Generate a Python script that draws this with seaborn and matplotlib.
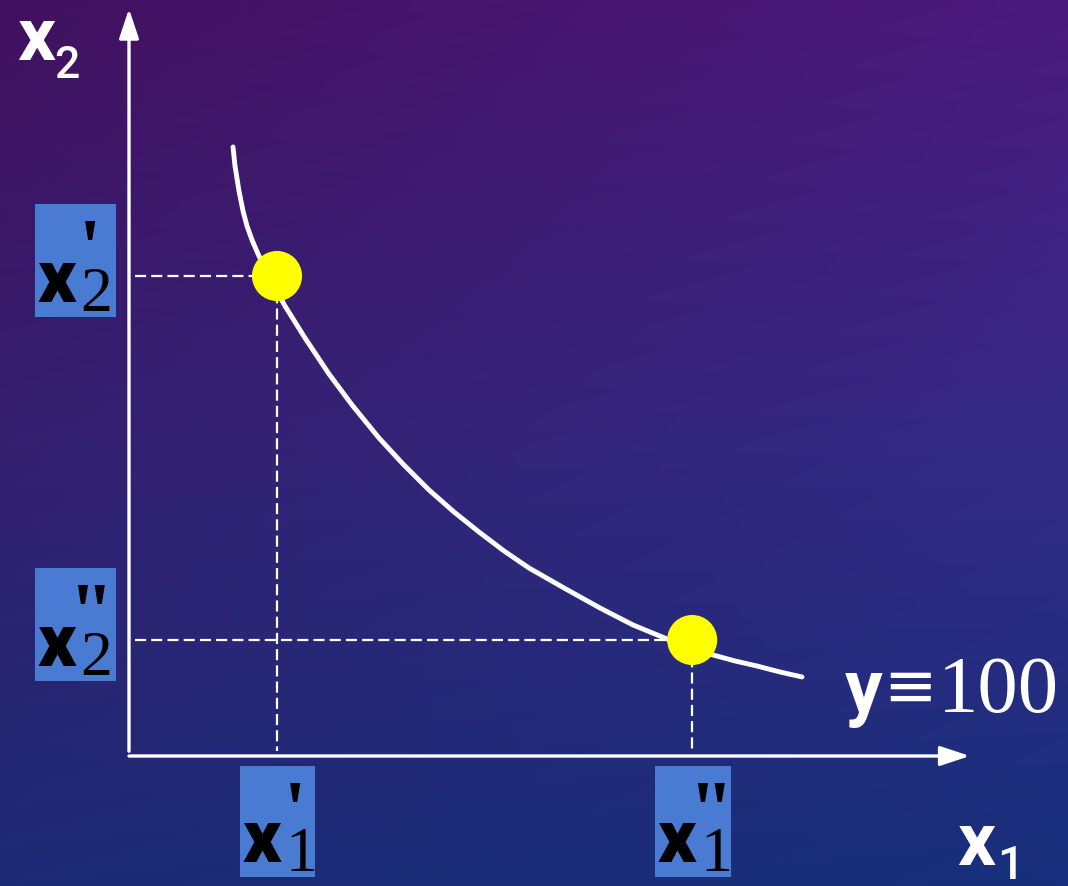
import numpy as np
import seaborn as sns
import matplotlib.pyplot as plt
from matplotlib.colors import to_rgb
from matplotlib.patches import Rectangle

sns.set_theme(style="white")

# Isoquant y = 100: input combinations (x1, x2)
curve_x1 = [1.300, 1.325, 1.375, 1.425, 1.475, 1.538, 1.613, 1.763, 1.950,
            2.200, 2.500, 2.788, 3.125, 3.425, 3.750, 4.063, 4.375, 4.688,
            5.000, 5.438, 5.888, 6.300, 6.725, 7.013, 7.300, 7.575, 7.850,
            8.138, 8.413]
curve_x2 = [7.613, 7.375, 7.063, 6.813, 6.625, 6.450, 6.275, 5.963, 5.625,
            5.225, 4.775, 4.388, 3.975, 3.650, 3.325, 3.050, 2.800, 2.563,
            2.350, 2.100, 1.850, 1.638, 1.463, 1.363, 1.263, 1.188, 1.125,
            1.050, 0.988]

# Two highlighted combinations on the isoquant
point_x1 = [1.85, 7.04]
point_x2 = [6.00, 1.45]
point_marks = ["'", '"']          # prime / double prime
x1_index = ["1", "1"]
x2_index = ["2", "2"]
output_level = "100"

BOX = "#4a7bd3"
SANS_BOLD = dict(family=["Roboto", "DejaVu Sans"], fontweight="bold")
SERIF = dict(family=["Liberation Serif", "DejaVu Serif"])

fig = plt.figure(figsize=(10.68, 8.87), dpi=100)
ax = fig.add_axes([0, 0, 1, 1])
xlim = (-1.6125, 11.7375)
ylim = (-1.625, 9.4625)
ax.set_xlim(*xlim)
ax.set_ylim(*ylim)
ax.axis("off")


# Night-sky gradient background: violet at the top, deep blue at the bottom
def mix(c1, c2, t):
    a, b = np.array(to_rgb(c1)), np.array(to_rgb(c2))
    return a[None, None, :] * (1 - t[..., None]) + b[None, None, :] * t[..., None]


H, W = 300, 300
ty = np.linspace(0, 1, H)[:, None] * np.ones((1, W))
tx = np.ones((H, 1)) * np.linspace(0, 1, W)[None, :]
top = mix("#42105f", "#4b1b7e", tx)
mid = mix("#33206f", "#342a86", tx)
bot = mix("#1d2a75", "#17307c", tx)
upper = ty < 0.5
img = np.where(upper[..., None],
               top * (1 - 2 * ty[..., None]) + mid * (2 * ty[..., None]),
               mid * (2 - 2 * ty[..., None]) + bot * (2 * ty[..., None] - 1))
ax.imshow(img, extent=(xlim[0], xlim[1], ylim[0], ylim[1]), origin="upper",
          aspect="auto", interpolation="bilinear", zorder=0)

# Axes with arrow heads
arrow = dict(arrowstyle="-|>,head_length=0.9,head_width=0.3", color="white",
             lw=2.4, shrinkA=0, shrinkB=0, mutation_scale=20)
ax.annotate("", xy=(10.51, 0.0), xytext=(0.0, 0.0), arrowprops=arrow, zorder=3)
ax.annotate("", xy=(0.0, 9.34), xytext=(0.0, 0.06), arrowprops=arrow, zorder=3)

# Dashed guides from each point to the axes
for px, py in zip(point_x1, point_x2):
    ax.plot([0.075, px], [py, py], color="white", lw=1.6,
            linestyle=(0, (5, 2.3)), zorder=2)
    ax.plot([px, px], [py, 0.06], color="white", lw=1.6,
            linestyle=(0, (5, 2.3)), zorder=2)

# Isoquant curve
sns.lineplot(x=curve_x1, y=curve_x2, sort=False, estimator=None, color="white",
             lw=3.5, ax=ax, zorder=4, solid_capstyle="round",
             solid_joinstyle="round")

# Points on the isoquant
sns.scatterplot(x=point_x1, y=point_x2, s=1300, color="#ffff00",
                edgecolor="none", ax=ax, zorder=5, legend=False)


def boxed_label(left, bottom, width, height, index, mark):
    ax.add_patch(Rectangle((left, bottom), width, height, facecolor=BOX,
                           edgecolor="none", zorder=3))
    ax.text(left + 0.03, bottom + 0.2, "x", color="black", fontsize=54,
            ha="left", va="baseline", zorder=6,
            family=["Roboto", "DejaVu Sans"], fontweight=900)
    ax.text(left + 0.56, bottom + 0.09, index, color="black", fontsize=46,
            ha="left", va="baseline", zorder=6, **SERIF)
    ax.text(left + 0.69, bottom + height - 0.16, mark, color="black",
            fontsize=58, ha="center", va="top", zorder=6,
            fontweight="bold", **SERIF)


# Labels on the x2 axis
for py, idx, mk in zip(point_x2, x2_index, point_marks):
    boxed_label(-1.175, py - 0.51, 1.0125, 1.4125, idx, mk)

# Labels on the x1 axis
for px, idx, mk in zip(point_x1, x1_index, point_marks):
    boxed_label(px - 0.46, -1.5125, 0.94, 1.3875, idx, mk)

# Axis names
ax.text(-1.4, 8.71, "x", color="white", fontsize=54, ha="left", va="baseline",
        zorder=6, **SANS_BOLD)
ax.text(-0.93, 8.49, "2", color="white", fontsize=32, ha="left", va="baseline",
        zorder=6, family=["Roboto", "DejaVu Sans"], fontweight="medium")
ax.text(10.35, -1.35, "x", color="white", fontsize=54, ha="left", va="baseline",
        zorder=6, **SANS_BOLD)
ax.text(10.85, -1.52, "1", color="white", fontsize=34, ha="left", va="baseline",
        zorder=6, family=["Roboto", "DejaVu Sans"], fontweight="medium")

# Output level of the isoquant
ax.text(8.95, 0.5625, "y", color="white", fontsize=54, ha="left",
        va="baseline", zorder=6, **SANS_BOLD)
ax.text(9.43, 0.85, "\u2261", color="white", fontsize=46, ha="left",
        va="center", zorder=6, family=["DejaVu Sans"])
ax.text(10.11, 0.5625, output_level, color="white", fontsize=58, ha="left",
        va="baseline", zorder=6, **SERIF)

fig.savefig("out.png", dpi=100)
